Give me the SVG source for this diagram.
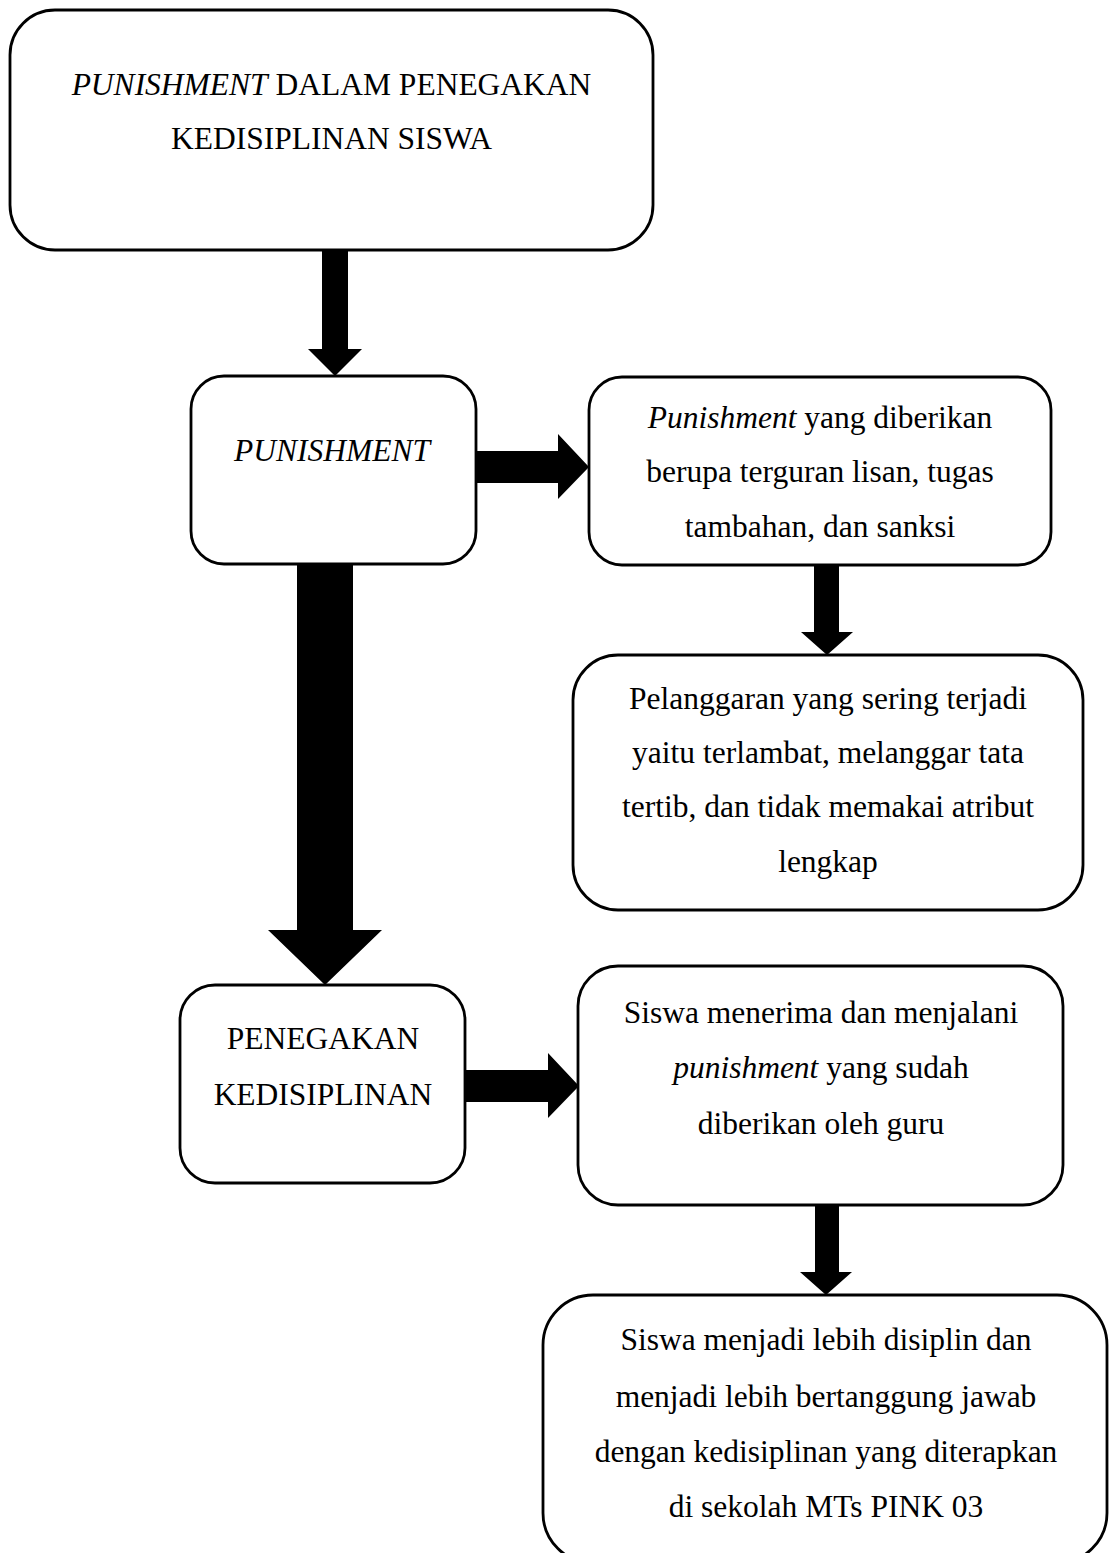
<svg xmlns="http://www.w3.org/2000/svg" width="1111" height="1553" viewBox="0 0 1111 1553">
<style>
.box{fill:#fff;stroke:#000;stroke-width:2.8}
.t{font-family:"Liberation Serif","Times New Roman",serif;font-size:31.5px;fill:#000;text-anchor:middle}
.i{font-style:italic}
.arr{fill:#000;stroke:none}
</style>
<rect width="1111" height="1553" fill="#fff"/>
<g id="connectors">
<polygon class="arr" points="322,249 348,249 348,349 362,349 335,376 308,349 322,349"/>
<polygon class="arr" points="475,451 558,451 558,434 589,467 558,499 558,483 475,483"/>
<polygon class="arr" points="297,563 353,563 353,930 382,930 325,985 268,930 297,930"/>
<polygon class="arr" points="814,564 839,564 839,632 853,632 827,655 801,632 814,632"/>
<polygon class="arr" points="464,1070 548,1070 548,1053 579,1086 548,1118 548,1102 464,1102"/>
<polygon class="arr" points="815,1204 839,1204 839,1272 852,1272 826,1295 800,1272 815,1272"/>
</g>
<g id="n1">
<rect class="box" x="10" y="10" width="643" height="240" rx="45" ry="45"/>
<text class="t" x="331.5" y="95"><tspan class="i">PUNISHMENT</tspan> DALAM PENEGAKAN</text>
<text class="t" x="331.5" y="149">KEDISIPLINAN SISWA</text>
</g>
<g id="n2">
<rect class="box" x="191" y="376" width="285" height="188" rx="33" ry="33"/>
<text class="t i" x="332" y="461">PUNISHMENT</text>
</g>
<g id="n3">
<rect class="box" x="589" y="377" width="462" height="188" rx="33" ry="33"/>
<text class="t" x="820" y="428"><tspan class="i">Punishment</tspan> yang diberikan</text>
<text class="t" x="820" y="482">berupa terguran lisan, tugas</text>
<text class="t" x="820" y="537">tambahan, dan sanksi</text>
</g>
<g id="n4">
<rect class="box" x="180" y="985" width="285" height="198" rx="35" ry="35"/>
<text class="t" x="323" y="1049">PENEGAKAN</text>
<text class="t" x="323" y="1105">KEDISIPLINAN</text>
</g>
<g id="n5">
<rect class="box" x="573" y="655" width="510" height="255" rx="45" ry="45"/>
<text class="t" x="828" y="709">Pelanggaran yang sering terjadi</text>
<text class="t" x="828" y="763">yaitu terlambat, melanggar tata</text>
<text class="t" x="828" y="817">tertib, dan tidak memakai atribut</text>
<text class="t" x="828" y="872">lengkap</text>
</g>
<g id="n6">
<rect class="box" x="578" y="966" width="485" height="239" rx="40" ry="40"/>
<text class="t" x="821" y="1023">Siswa menerima dan menjalani</text>
<text class="t" x="821" y="1078"><tspan class="i">punishment</tspan> yang sudah</text>
<text class="t" x="821" y="1134">diberikan oleh guru</text>
</g>
<g id="n7">
<rect class="box" x="543" y="1295" width="564" height="268" rx="50" ry="50"/>
<text class="t" x="826" y="1350">Siswa menjadi lebih disiplin dan</text>
<text class="t" x="826" y="1407">menjadi lebih bertanggung jawab</text>
<text class="t" x="826" y="1462">dengan kedisiplinan yang diterapkan</text>
<text class="t" x="826" y="1517">di sekolah MTs PINK 03</text>
</g>
</svg>
